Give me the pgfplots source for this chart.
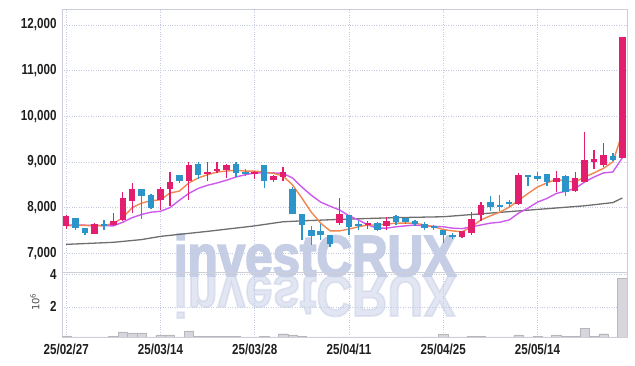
\documentclass[border=0pt]{standalone}
\usepackage{fontspec}
\setmainfont{DejaVu Sans}
\newfontfamily\tickfont[FakeStretch=0.8]{Liberation Sans Bold}
\newfontfamily\wmfont[FakeStretch=0.85, FakeBold=3]{Liberation Sans Bold}
\usepackage{pgfplots}
\pgfplotsset{compat=1.18}
\usepackage{pgfplotstable}

\definecolor{upc}{RGB}{228,30,110}
\definecolor{dnc}{RGB}{44,148,200}
\definecolor{ma5}{RGB}{240,135,80}
\definecolor{ma20}{RGB}{205,90,235}
\definecolor{ma60}{RGB}{110,110,110}
\definecolor{gridc}{RGB}{196,202,224}
\definecolor{framec}{RGB}{204,206,216}
\definecolor{wmc}{RGB}{198,206,230}
\definecolor{volc}{RGB}{214,214,220}
\definecolor{txtc}{RGB}{30,30,30}

\pgfplotstableread{
i o h l c
0 7600 7840 7540 7820
3 7430 7670 7430 7650
5 7610 7880 7600 7710
6 7720 8340 7700 8200
7 8140 8540 7890 8400
10 8170 8450 7950 8400
11 8410 8780 8040 8560
13 8580 8990 8170 8930
15 8730 8990 8580 8775
16 8800 8990 8750 8840
17 8820 8950 8650 8930
20 8740 8800 8620 8790
22 8600 8720 8560 8690
23 8670 8900 8580 8775
29 7670 8210 7630 7870
32 7630 7700 7540 7670
34 7590 7800 7520 7710
42 7350 7480 7340 7480
43 7450 7910 7410 7740
44 7840 8120 7700 8060
48 8080 8750 8060 8710
52 8560 8800 8340 8640
54 8360 8780 8340 8640
55 8560 9660 8560 9050
56 8990 9270 8840 9056
57 8926 9420 8900 9143
59 9080 11740 9080 11740
}\tabup

\pgfplotstableread{
i o h l c
1 7780 7780 7500 7560
2 7560 7560 7410 7450
4 7640 7720 7500 7610
8 8400 8400 7760 8250
9 8280 8300 7980 8000
12 8710 8710 8540 8580
14 8950 8990 8620 8710
18 8950 8990 8670 8750
19 8775 8850 8700 8750
21 8930 8930 8430 8580
24 8410 8450 7870 7870
25 7870 7870 7300 7610
26 7520 7600 7180 7370
27 7480 7650 7300 7390
28 7410 7410 7130 7200
30 7840 7840 7390 7580
31 7650 7700 7520 7590
33 7670 7680 7480 7520
35 7820 7830 7630 7690
36 7780 7790 7640 7690
37 7710 7730 7590 7650
38 7650 7680 7520 7560
39 7590 7620 7500 7560
40 7520 7520 7220 7410
41 7390 7450 7320 7350
45 8120 8250 7930 8020
46 8060 8270 7920 8020
47 8120 8170 8020 8080
49 8710 8720 8470 8670
50 8690 8775 8580 8620
51 8730 8730 8470 8560
53 8690 8710 8260 8340
58 9120 9190 9010 9035
}\tabdn

\pgfplotstableread{
i a b
0 7600 7620
1 7610 7620
2 7610 7615
3 7600 7610
4 7610 7605
5 7650 7600
6 7780 7680
7 8000 7780
8 8100 7850
9 8150 7900
10 8170 7920
11 8320 8000
12 8360 8160
13 8540 8310
14 8650 8420
15 8720 8490
16 8780 8540
17 8800 8600
18 8820 8670
19 8800 8720
20 8800 8760
21 8780 8760
22 8750 8760
23 8690 8750
24 8500 8650
25 8210 8450
26 7900 8270
27 7660 8120
28 7490 8030
29 7490 7950
30 7530 7820
31 7580 7730
32 7620 7620
33 7620 7550
34 7640 7550
35 7660 7580
36 7660 7600
37 7660 7620
38 7620 7600
39 7580 7590
40 7520 7580
41 7490 7550
42 7470 7540
43 7580 7580
44 7730 7620
45 7820 7660
46 7900 7680
47 8010 7730
48 8160 7880
49 8310 7990
50 8450 8120
51 8540 8200
52 8620 8310
53 8580 8360
54 8560 8420
55 8670 8560
56 8760 8670
57 8860 8760
58 9000 8780
59 9630 9090
}\tabma

\pgfplotstableread{
i g
0 7195
5 7240
8 7300
10 7370
15 7480
20 7600
23 7690
25 7710
30 7750
35 7780
40 7800
45 7880
50 7960
55 8040
58 8110
59 8210
}\tabmg

\pgfplotstableread{
i v
0 0.22
1 0.12
2 0.10
3 0.10
4 0.12
5 0.20
6 0.47
7 0.40
8 0.40
9 0.12
10 0.28
11 0.28
12 0.12
13 0.53
14 0.20
15 0.18
16 0.18
17 0.18
18 0.18
19 0.14
20 0.12
21 0.20
22 0.12
23 0.35
24 0.28
25 0.20
26 0.10
27 0.10
28 0.16
29 0.16
30 0.12
31 0.10
32 0.10
33 0.12
34 0.10
35 0.10
36 0.10
37 0.10
38 0.16
39 0.12
40 0.30
41 0.12
42 0.10
43 0.20
44 0.20
45 0.10
46 0.10
47 0.10
48 0.28
49 0.12
50 0.20
51 0.10
52 0.28
53 0.20
54 0.20
55 0.70
56 0.20
57 0.35
58 0.10
59 3.75
}\tabvol

\pgfplotsset{
  tl/.style={font=\tickfont\fontsize{14.5}{16}\selectfont, text=txtc},
  common/.style={
    scale only axis, width=565pt,
    xmin=-0.45, xmax=59.5,
    xtick={0,10,20,30,40,50},
    grid=major,
    major grid style={gridc, dotted, line width=0.6pt},
    axis line style={framec, line width=0.8pt},
    major tick length=0pt,
    scaled y ticks=false,
    /pgf/number format/assume math mode=true,
  },
  wick/.style={draw=none, mark=none, error bars/.cd, y dir=plus, y explicit, error mark=none,
    error bar style={#1, line width=1.3pt}},
  body/.style={draw=none, mark=none, error bars/.cd, y dir=both, y explicit, error mark=none,
    error bar style={#1, line width=6.5pt}},
}

\begin{document}
\begin{tikzpicture}
\path[use as bounding box] (0,0) rectangle (635pt,366pt);
% watermark and its reflection
\node[anchor=base, text=wmc, inner sep=0pt, font=\wmfont\fontsize{58}{58}\selectfont] at (315pt,90pt) {investCRUX};
\node[anchor=base, yscale=-1, text=wmc, opacity=0.5, inner sep=0pt, font=\wmfont\fontsize{58}{58}\selectfont] at (315pt,90pt) {investCRUX};

\begin{axis}[common,
  at={(62pt,94pt)}, anchor=south west, height=263pt,
  ymin=6590, ymax=12350,
  ytick={7000,8000,9000,10000,11000,12000},
  xticklabels={},
  yticklabel style={tl, /pgf/number format/fixed, /pgf/number format/1000 sep={,}, xshift=-2pt},
]
\addplot[ma60, line width=1.3pt] table[x=i,y=g]{\tabmg};
\addplot[ma20, line width=1.4pt] table[x=i,y=b]{\tabma};
\addplot[ma5, line width=1.4pt] table[x=i,y=a]{\tabma};
% wicks
\addplot[wick=upc] table[x=i, y=l, y error expr=\thisrow{h}-\thisrow{l}]{\tabup};
\addplot[wick=dnc] table[x=i, y=l, y error expr=\thisrow{h}-\thisrow{l}]{\tabdn};
% bodies
\addplot[body=upc] table[x=i, y expr={(\thisrow{o}+\thisrow{c})/2}, y error expr={max(abs(\thisrow{c}-\thisrow{o})/2,22)}]{\tabup};
\addplot[body=dnc] table[x=i, y expr={(\thisrow{o}+\thisrow{c})/2}, y error expr={max(abs(\thisrow{c}-\thisrow{o})/2,22)}]{\tabdn};
\end{axis}

\begin{axis}[common,
  at={(62pt,29pt)}, anchor=south west, height=65pt,
  ymin=0.15, ymax=4.14,
  ytick={2,4},
  xticklabels={25/02/27,25/03/14,25/03/28,25/04/11,25/04/25,25/05/14},
  xticklabel style={tl, yshift=-3pt},
  yticklabel style={tl, xshift=-2pt},
]
\addplot[ybar, bar width=9.4pt, fill=volc, draw=volc!85!black, line width=0.4pt] table[x=i,y=v]{\tabvol};
\end{axis}

\node[rotate=90, text=black!70, font=\fontsize{10}{12}\selectfont] at (35pt,64pt) {10\textsuperscript{6}};
\end{tikzpicture}
\end{document}
